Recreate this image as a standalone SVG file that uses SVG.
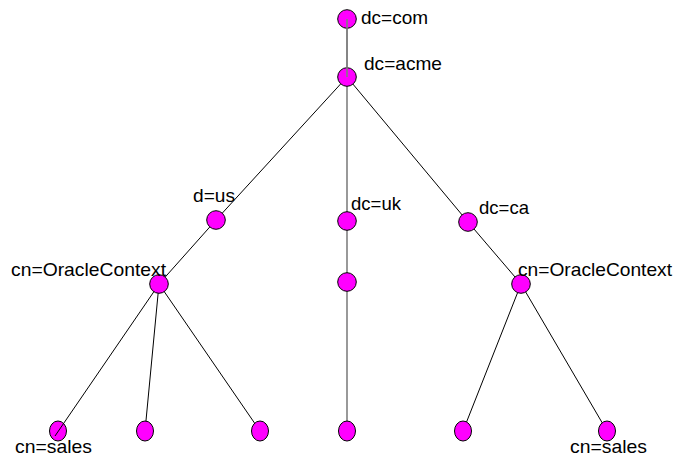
<svg xmlns="http://www.w3.org/2000/svg" width="675" height="457" viewBox="0 0 675 457">
<style>
.n{fill:#ff00ff;stroke:#000;stroke-width:1}
.e{stroke:#000;stroke-width:1;fill:none}
.v{stroke:#808080;stroke-width:1.6;fill:none}
text{font-family:"Liberation Sans",Arial,sans-serif;font-size:18.5px;fill:#000}
</style>
<rect width="675" height="457" fill="#fff"/>
<g id="connectors">
<line class="v" x1="347" y1="19" x2="347" y2="431"/>
<line class="e" x1="347" y1="77" x2="216" y2="220"/>
<line class="e" x1="347" y1="77" x2="468" y2="222"/>
<line class="e" x1="216" y1="220" x2="159" y2="284"/>
<line class="e" x1="468" y1="222" x2="521" y2="284"/>
<line class="e" x1="159" y1="284" x2="145" y2="431"/>
<line class="e" x1="159" y1="284" x2="260" y2="431"/>
<line class="e" x1="521" y1="284" x2="463" y2="431"/>
<line class="e" x1="521" y1="284" x2="607" y2="431"/>
</g>
<g id="dc-com"><circle class="n" cx="347" cy="19" r="9.3"/><text x="361" y="24" textLength="67" lengthAdjust="spacingAndGlyphs">dc=com</text></g>
<g id="dc-acme"><circle class="n" cx="347" cy="77" r="9.3"/><text x="364" y="70" textLength="78" lengthAdjust="spacingAndGlyphs">dc=acme</text></g>
<g id="d-us"><circle class="n" cx="216" cy="220" r="9.3"/><text x="193" y="202" textLength="42" lengthAdjust="spacingAndGlyphs">d=us</text></g>
<g id="dc-uk"><circle class="n" cx="347" cy="221" r="9.3"/><text x="351" y="210" textLength="50" lengthAdjust="spacingAndGlyphs">dc=uk</text></g>
<g id="dc-ca"><circle class="n" cx="468" cy="222" r="9.3"/><text x="479" y="214" textLength="50" lengthAdjust="spacingAndGlyphs">dc=ca</text></g>
<g id="oc-left"><circle class="n" cx="159" cy="284" r="9.3"/><text x="11" y="276" textLength="155" lengthAdjust="spacingAndGlyphs">cn=OracleContext</text></g>
<g id="uk-child"><circle class="n" cx="347" cy="282" r="9.3"/></g>
<g id="oc-right"><circle class="n" cx="521" cy="284" r="9.3"/><text x="518" y="276" textLength="154" lengthAdjust="spacingAndGlyphs">cn=OracleContext</text></g>
<g id="sales-left"><ellipse class="n" cx="58" cy="431" rx="8.5" ry="10"/><text x="15" y="453" textLength="77" lengthAdjust="spacingAndGlyphs">cn=sales</text></g>
<g id="leaf-2"><ellipse class="n" cx="145" cy="431" rx="8.5" ry="10"/></g>
<g id="leaf-3"><ellipse class="n" cx="260" cy="431" rx="8.5" ry="10"/></g>
<g id="leaf-4"><ellipse class="n" cx="347" cy="431" rx="8.5" ry="10"/></g>
<g id="leaf-5"><ellipse class="n" cx="463" cy="431" rx="8.5" ry="10"/></g>
<g id="sales-right"><ellipse class="n" cx="607" cy="431" rx="8.5" ry="10"/><text x="570" y="453" textLength="77" lengthAdjust="spacingAndGlyphs">cn=sales</text></g>
<g id="overlay-connectors">
<line class="v" x1="347" y1="19" x2="347" y2="77"/>
<line class="e" x1="154" y1="291.5" x2="55" y2="436"/>
</g>
</svg>
